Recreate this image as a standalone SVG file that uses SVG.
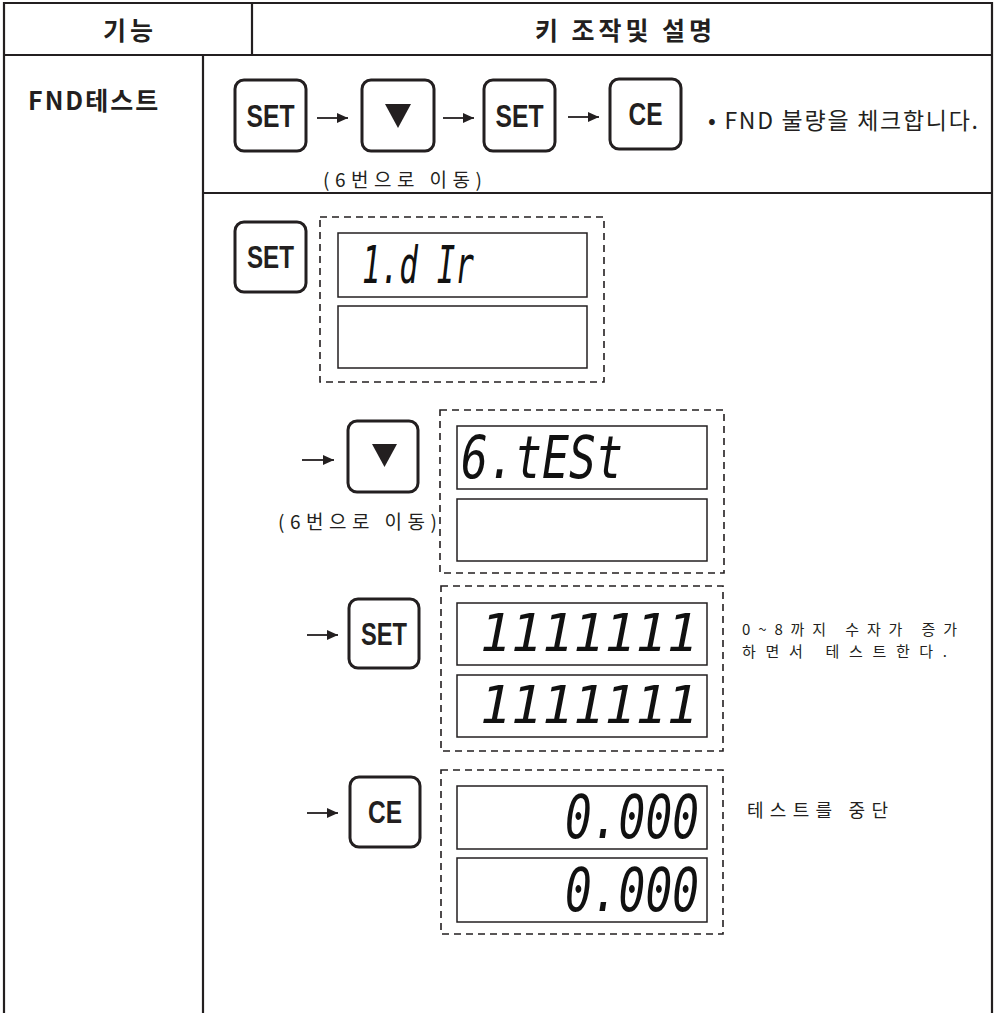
<svg xmlns="http://www.w3.org/2000/svg" width="994" height="1013" viewBox="0 0 994 1013">
<style>
.bg{fill:#ffffff}
.tbl{stroke:#231f20;stroke-width:2.2;fill:none}
.key{fill:#ffffff;stroke:#231f20;stroke-width:3}
.keyt{font-family:"Liberation Sans Narrow","Liberation Sans",Arial,sans-serif;font-weight:bold;font-size:31px;fill:#231f20;text-anchor:middle}
.hdr{font-family:"Noto Sans CJK KR","Noto Sans",sans-serif;font-weight:bold;font-size:25px;fill:#231f20}
.note{font-family:"Noto Sans CJK KR","Noto Sans",sans-serif;font-weight:400;fill:#231f20}
.dash{fill:none;stroke:#231f20;stroke-width:1.6;stroke-dasharray:7 5}
.disp{fill:#ffffff;stroke:#231f20;stroke-width:1.5}
.seg{font-family:"DejaVu Sans Mono","Liberation Mono",monospace;font-style:italic;fill:#111111}
.arr{stroke:#231f20;stroke-width:1.8;fill:none}
.tri{fill:#231f20}
</style>
<defs>
<marker id="ah" markerUnits="userSpaceOnUse" markerWidth="11" markerHeight="10" refX="11" refY="5" orient="auto">
<path d="M0,0 L11,5 L0,10 z" fill="#231f20"/>
</marker>
</defs>
<rect class="bg" x="0" y="0" width="994" height="1013"/>

<g id="table">
<line class="tbl" x1="3" y1="3" x2="993" y2="3"/>
<line class="tbl" x1="4" y1="2" x2="4" y2="1013"/>
<line class="tbl" x1="992" y1="2" x2="992" y2="1013"/>
<line class="tbl" x1="3" y1="55" x2="993" y2="55"/>
<line class="tbl" x1="252" y1="3" x2="252" y2="55"/>
<line class="tbl" x1="203" y1="55" x2="203" y2="1013"/>
<line class="tbl" x1="203" y1="193" x2="993" y2="193"/>
</g>

<g id="header-func"><text class="hdr" x="103" y="40" textLength="50" lengthAdjust="spacing">기능</text></g>
<g id="header-desc"><text class="hdr" x="535" y="40" textLength="177" lengthAdjust="spacing">키 조작및 설명</text></g>
<g id="label-fnd"><text class="hdr" x="28" y="110" letter-spacing="2">FND테스트</text></g>

<g id="top-set1">
<rect class="key" x="235" y="80" width="71" height="71" rx="9"/>
<text class="keyt" x="270.5" y="127" textLength="48" lengthAdjust="spacingAndGlyphs">SET</text>
</g>
<g id="top-down">
<rect class="key" x="362" y="80" width="72" height="71" rx="9"/>
<polygon class="tri" points="385,104 411,104 398,128"/>
</g>
<g id="top-set2">
<rect class="key" x="484" y="80" width="71" height="71" rx="9"/>
<text class="keyt" x="519.5" y="127" textLength="48" lengthAdjust="spacingAndGlyphs">SET</text>
</g>
<g id="top-ce">
<rect class="key" x="610" y="79" width="71" height="70" rx="9"/>
<text class="keyt" x="645.5" y="125" textLength="34" lengthAdjust="spacingAndGlyphs">CE</text>
</g>
<g id="top-note"><text class="note" x="708" y="129" font-size="23" font-weight="300" textLength="270" lengthAdjust="spacing">• FND 불량을 체크합니다.</text></g>
<g id="top-move-label"><text class="note" x="323" y="187" font-size="19" textLength="159" lengthAdjust="spacing">(6번으로 이동)</text></g>

<g id="step1-set">
<rect class="key" x="235" y="222" width="71" height="70" rx="9"/>
<text class="keyt" x="270.5" y="268" textLength="47" lengthAdjust="spacingAndGlyphs">SET</text>
</g>
<g id="step1-display">
<rect class="dash" x="320" y="217" width="284" height="165"/>
<rect class="disp" x="338" y="233" width="249" height="64"/>
<rect class="disp" x="338" y="306" width="249" height="62"/>
<text class="seg" x="362" y="283" font-size="52" textLength="112" lengthAdjust="spacingAndGlyphs">1.d Ir</text>
</g>

<g id="step2-down">
<rect class="key" x="348" y="421" width="70" height="71" rx="9"/>
<polygon class="tri" points="372,444 397,444 384.5,467"/>
</g>
<g id="step2-label"><text class="note" x="278" y="529" font-size="19" textLength="159" lengthAdjust="spacing">(6번으로 이동)</text></g>
<g id="step2-display">
<rect class="dash" x="440" y="410" width="284" height="163"/>
<rect class="disp" x="457" y="426" width="250" height="63"/>
<rect class="disp" x="457" y="499" width="250" height="62"/>
<text class="seg" x="461" y="478" font-size="59" textLength="162" lengthAdjust="spacingAndGlyphs">6.tESt</text>
</g>

<g id="step3-set">
<rect class="key" x="349" y="599" width="70" height="69" rx="9"/>
<text class="keyt" x="384" y="645" textLength="46" lengthAdjust="spacingAndGlyphs">SET</text>
</g>
<g id="step3-display">
<rect class="dash" x="441" y="586" width="282" height="165"/>
<rect class="disp" x="457" y="603" width="250" height="62"/>
<rect class="disp" x="457" y="675" width="250" height="62"/>
<text class="seg" x="480" y="651" font-size="52" textLength="218" lengthAdjust="spacing">1111111</text>
<text class="seg" x="480" y="723" font-size="52" textLength="218" lengthAdjust="spacing">1111111</text>
</g>
<g id="step3-note">
<text class="note" x="742" y="635" font-size="15" textLength="215" lengthAdjust="spacing">0~8까지 수자가 증가</text>
<text class="note" x="742" y="657" font-size="15" textLength="205" lengthAdjust="spacing">하면서 테스트한다.</text>
</g>

<g id="step4-ce">
<rect class="key" x="350" y="777" width="70" height="70" rx="9"/>
<text class="keyt" x="385" y="823" textLength="34" lengthAdjust="spacingAndGlyphs">CE</text>
</g>
<g id="step4-display">
<rect class="dash" x="441" y="770" width="282" height="164"/>
<rect class="disp" x="457" y="786" width="250" height="63"/>
<rect class="disp" x="457" y="858" width="250" height="64"/>
<text class="seg" x="699" y="838" font-size="60" text-anchor="end" textLength="134" lengthAdjust="spacingAndGlyphs">0.000</text>
<text class="seg" x="699" y="911" font-size="60" text-anchor="end" textLength="134" lengthAdjust="spacingAndGlyphs">0.000</text>
</g>
<g id="step4-note"><text class="note" x="747" y="817" font-size="18" textLength="141" lengthAdjust="spacing">테스트를 중단</text></g>

<g id="connectors">
<line class="arr" x1="317" y1="118" x2="348" y2="118" marker-end="url(#ah)"/>
<line class="arr" x1="443" y1="118" x2="474" y2="118" marker-end="url(#ah)"/>
<line class="arr" x1="568" y1="117" x2="599" y2="117" marker-end="url(#ah)"/>
<line class="arr" x1="302" y1="460" x2="334" y2="460" marker-end="url(#ah)"/>
<line class="arr" x1="307" y1="635" x2="338" y2="635" marker-end="url(#ah)"/>
<line class="arr" x1="307" y1="813" x2="338" y2="813" marker-end="url(#ah)"/>
</g>
</svg>
